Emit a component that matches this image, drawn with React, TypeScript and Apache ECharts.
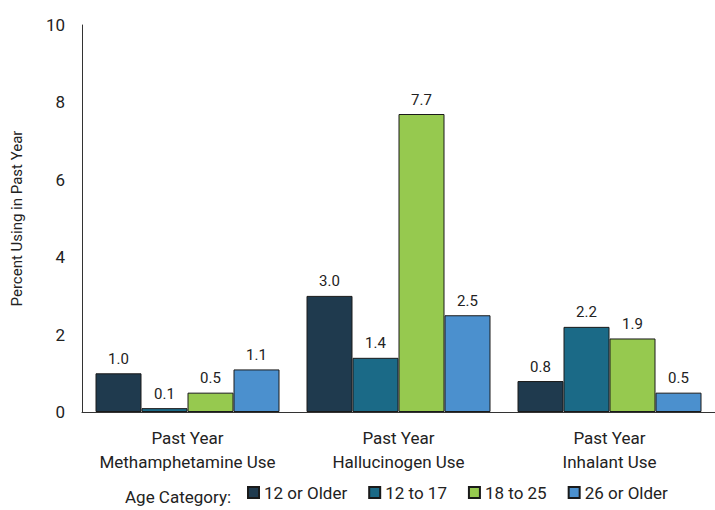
import React, { useEffect, useRef } from "react";
import * as echarts from "echarts";

const categories = ["Past Year\nMethamphetamine Use", "Past Year\nHallucinogen Use", "Past Year\nInhalant Use"];
const seriesNames = ["12 or Older", "12 to 17", "18 to 25", "26 or Older"];
const older12 = [1.0, 3.0, 0.8];
const age12to17 = [0.1, 1.4, 2.2];
const age18to25 = [0.5, 7.7, 1.9];
const older26 = [1.1, 2.5, 0.5];
const yTicks = [0, 2, 4, 6, 8, 10];
const colors = ["#1f3a4e", "#1b6a87", "#96c94f", "#4b90ce"];

const FONT = "Roboto, 'Liberation Sans', sans-serif";

export default function App() {
  const ref = useRef<HTMLDivElement>(null);
  useEffect(() => {
    if (!ref.current) return;
    const chart = echarts.init(ref.current, undefined, { renderer: "svg" });
    const data = [older12, age12to17, age18to25, older26];
    chart.setOption({
      animation: false,
      textStyle: { fontFamily: FONT },
      grid: { left: 82, right: -4, top: 25, bottom: 98 },
      legend: {
        data: seriesNames,
        bottom: 4,
        left: 242,
        itemWidth: 11,
        itemHeight: 11,
        itemGap: 21,
        icon: "rect",
        textStyle: { fontFamily: FONT, fontSize: 17, color: "#222" },
      },
      graphic: [
        {
          type: "text",
          left: 125,
          bottom: 5,
          style: { text: "Age Category:", font: `17px ${FONT}`, fill: "#222" },
        },
      ],
      xAxis: {
        type: "category",
        data: categories,
        axisLine: { lineStyle: { color: "#333", width: 1 } },
        axisTick: { show: false },
        axisLabel: { interval: 0, fontFamily: FONT, fontSize: 17, color: "#222", lineHeight: 24, margin: 14 },
      },
      yAxis: {
        type: "value",
        min: 0,
        max: 10,
        interval: 2,
        name: "Percent Using in Past Year",
        nameLocation: "middle",
        nameGap: 58,
        nameTextStyle: { fontFamily: FONT, fontSize: 15, color: "#222" },
        axisLine: { show: true, lineStyle: { color: "#333", width: 1 } },
        axisTick: { show: false },
        splitLine: { show: false },
        axisLabel: {
          fontFamily: FONT,
          fontSize: 17,
          color: "#222",
          margin: 17,
          formatter: (v: number) => (yTicks.includes(v) ? String(v) : ""),
        },
      },
      series: seriesNames.map((name, i) => ({
        name,
        type: "bar",
        data: data[i],
        barWidth: 46,
        barGap: "0%",
        itemStyle: { color: colors[i], borderColor: "#1a1a1a", borderWidth: 1 },
        label: {
          show: true,
          position: "top",
          distance: 7,
          fontFamily: FONT,
          fontSize: 15,
          color: "#222",
          formatter: (p: any) => Number(p.value).toFixed(1),
        },
      })),
    });
    return () => chart.dispose();
  }, []);
  return <div ref={ref} style={{ width: 715, height: 510, position: "absolute", left: 0, top: 0 }} />;
}
